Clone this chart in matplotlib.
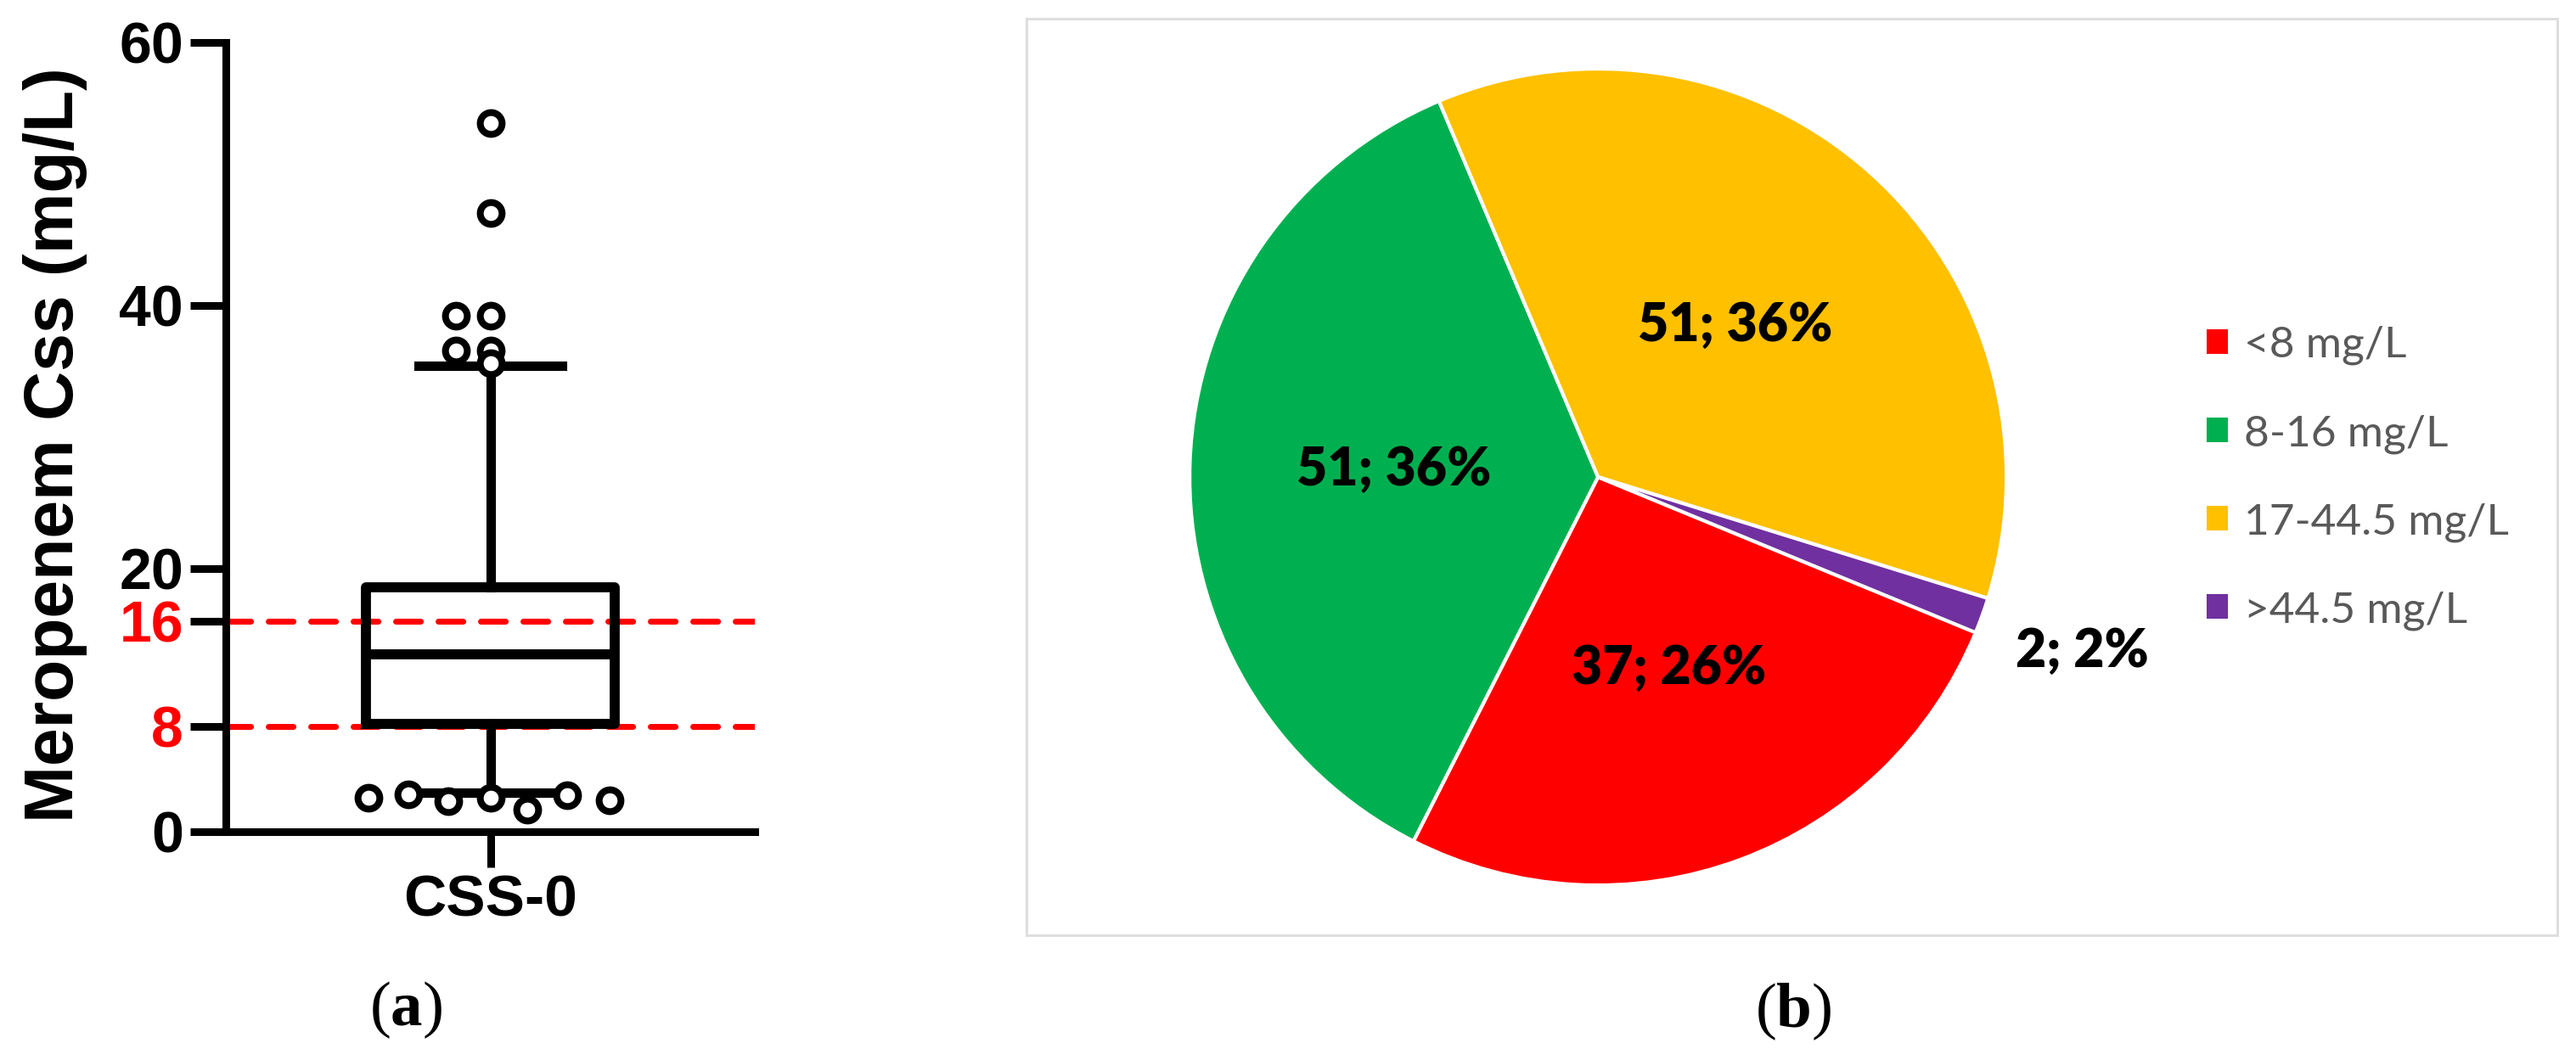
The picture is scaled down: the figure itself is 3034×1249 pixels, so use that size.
import numpy as np
import matplotlib
matplotlib.use('Agg')
import matplotlib.pyplot as plt
from matplotlib.patches import Patch, Rectangle

# 1. 箱线图数据 (Meropenem Css, mg/L)
box_label = 'CSS-0'
q1, median, q3 = 8.2, 13.5, 18.6
whisker_low, whisker_high = 2.96, 35.4
high_fliers = [53.9, 47.0, 39.2, 39.2, 36.6, 36.6, 35.6]
high_jitter = [0.0, 0.0, -0.13, 0.0, -0.13, 0.0, 0.0]
low_fliers = [2.6, 2.85, 2.3, 2.6, 1.67, 2.8, 2.4]
low_jitter = [-0.46, -0.31, -0.16, 0.0, 0.14, 0.29, 0.45]
thresholds = [8, 16]
y_ticks = [0, 8, 16, 20, 40, 60]

# 2. 饼图数据
groups = ['<8 mg/L', '8-16 mg/L', '17-44.5 mg/L', '>44.5 mg/L']
counts = [37, 51, 51, 2]
percents = [26, 36, 36, 2]
colors = ['#FF0000', '#00B050', '#FFC000', '#7030A0']

plt.rcParams['font.family'] = 'Liberation Sans'
plt.rcParams['mathtext.fontset'] = 'custom'
plt.rcParams['mathtext.rm'] = 'Liberation Serif'
plt.rcParams['mathtext.bf'] = 'Liberation Serif:bold'

fig = plt.figure(figsize=(30.34, 12.49), dpi=100)

# A. 箱线图
ax = fig.add_axes([0.0877, 0.2154, 0.2053, 0.7446])
stats = [dict(med=median, q1=q1, q3=q3, whislo=whisker_low, whishi=whisker_high,
              fliers=[], label=box_label)]
ax.bxp(stats, positions=[1], widths=0.94, capwidths=0.54, showfliers=False,
       boxprops=dict(color='black', linewidth=8.5),
       medianprops=dict(color='black', linewidth=8.5),
       whiskerprops=dict(color='black', linewidth=8),
       capprops=dict(color='black', linewidth=8), zorder=3)
ax.plot(1 + np.array(high_jitter), high_fliers, 'o', ms=18.5, mfc='white', mec='black', mew=5.8, zorder=4)
ax.plot(1 + np.array(low_jitter), low_fliers, 'o', ms=18.5, mfc='white', mec='black', mew=5.8, zorder=4)
for t in thresholds:
    ax.axhline(t, color='red', linewidth=5, linestyle=(0, (4.2, 3)), dash_capstyle='round', zorder=2)

ax.set_xlim(0, 2)
ax.set_ylim(0, 60)
ax.set_yticks(y_ticks)
ax.set_yticklabels([str(v) for v in y_ticks], fontsize=49, fontweight='bold')
for lab, v in zip(ax.get_yticklabels(), y_ticks):
    if v in thresholds:
        lab.set_color('red')
ax.set_xticks([1])
ax.set_xticklabels([box_label], fontsize=50, fontweight='bold')
ax.tick_params(axis='both', length=30, width=6.5, pad=6)
ax.set_ylabel('Meropenem Css (mg/L)', fontsize=58, fontweight='bold')
ax.yaxis.set_label_coords(-0.262, 0.49)
for s in ['top', 'right']:
    ax.spines[s].set_visible(False)
for s in ['left', 'bottom']:
    ax.spines[s].set_linewidth(6.5)

# B. 饼图
fig.patches.append(Rectangle((0.3985, 0.1177), 0.5943, 0.8647, transform=fig.transFigure,
                             fill=False, edgecolor='#DEDEDE', linewidth=2.2))
ax2 = fig.add_axes([0.4618, 0.1649, 0.3171, 0.7702])
wedges, _ = ax2.pie(counts, colors=colors, startangle=-22.4, counterclock=False,
                    wedgeprops=dict(edgecolor='white', linewidth=3))
ax2.set_xlim(-1, 1)
ax2.set_ylim(-1, 1)
ax2.set_aspect('equal')
for w, n, p in zip(wedges, counts, percents):
    mid = np.deg2rad((w.theta1 + w.theta2) / 2)
    r = 0.5 if p > 5 else 1.26
    ax2.text(r * np.cos(mid), r * np.sin(mid), f'{n}; {p}%', ha='center', va='center',
             fontsize=45, fontweight='heavy', family='Lato', color='black')

handles = [Patch(facecolor=c, edgecolor='none') for c in colors]
leg = fig.legend(handles, groups, loc='center left', bbox_to_anchor=(0.8566, 0.549),
                 frameon=False, prop=dict(family='Lato', size=37), labelcolor='#595959',
                 handlelength=0.49, handleheight=0.49, handletextpad=0.36,
                 labelspacing=1.12, borderpad=0, borderaxespad=0)

fig.text(478 / 3034, 1 - 1190 / 1249, r'$(\mathbf{a})$', ha='center', va='center', fontsize=54)
fig.text(2112 / 3034, 1 - 1192 / 1249, r'$(\mathbf{b})$', ha='center', va='center', fontsize=54)

fig.savefig('out.png', dpi=100)
